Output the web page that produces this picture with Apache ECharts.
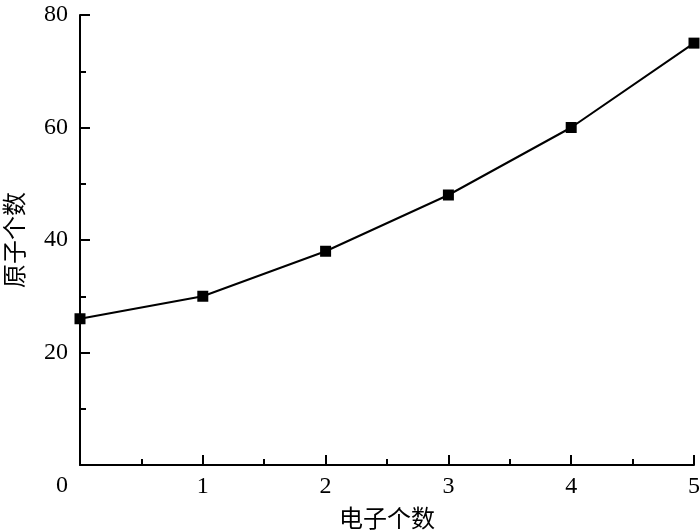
<!DOCTYPE html>
<html><head><meta charset="utf-8">
<script src="https://cdn.jsdelivr.net/npm/echarts@6/dist/echarts.min.js"></script>
<style>html,body{margin:0;padding:0;background:#fff}#c{width:700px;height:531px}</style>
</head><body><div id="c"></div>
<script>
const electrons = [0, 1, 2, 3, 4, 5];
const atoms = [26, 30, 38, 48, 60, 75];
const xName = '电子个数';
const yName = '原子个数';

const chart = echarts.init(document.getElementById('c'));
const serif = 'Liberation Serif';
const cjk = 'Noto Sans CJK SC';
const axisCommon = {
  axisLine: {show: true, lineStyle: {color: '#000', width: 2}},
  axisTick: {show: true, inside: true, length: 10, lineStyle: {color: '#000', width: 2}},
  minorTick: {show: true, splitNumber: 2, length: 6, lineStyle: {color: '#000', width: 2}},
  splitLine: {show: false},
  axisLabel: {color: '#000', fontFamily: serif, fontSize: 24},
  nameTextStyle: {color: '#000', fontFamily: cjk, fontSize: 24}
};
chart.setOption({
  animation: false,
  grid: {left: 80, right: 6, top: 15, bottom: 66, containLabel: false, outerBoundsMode: 'none'},
  xAxis: Object.assign({}, axisCommon, {
    type: 'value', min: 0, max: 5, interval: 1,
    name: xName, nameLocation: 'middle', nameGap: 41,
    axisLabel: Object.assign({}, axisCommon.axisLabel, {margin: 10, showMinLabel: false})
  }),
  yAxis: Object.assign({}, axisCommon, {
    type: 'value', min: 0, max: 80, interval: 20,
    name: yName, nameLocation: 'middle', nameGap: 54,
    axisLabel: Object.assign({}, axisCommon.axisLabel, {margin: 12, showMinLabel: false})
  }),
  graphic: [{type: 'text', left: 56, top: 474, style: {text: '0', font: '24px "Liberation Serif"', fill: '#000'}}],
  series: [{
    type: 'line',
    data: electrons.map((e, i) => [e, atoms[i]]),
    symbol: 'rect', symbolSize: 11,
    lineStyle: {color: '#000', width: 2},
    itemStyle: {color: '#000'},
    clip: false
  }]
});
</script></body></html>
